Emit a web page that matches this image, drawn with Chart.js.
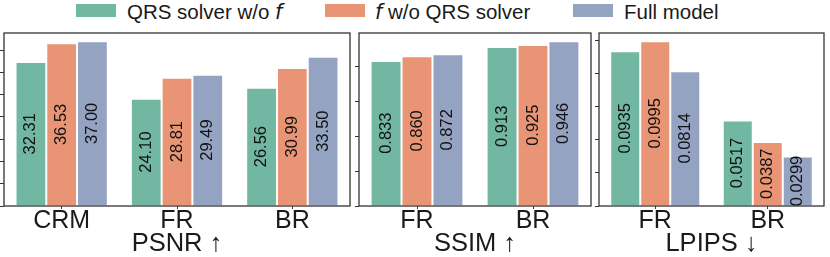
<!DOCTYPE html>
<html>
<head>
<meta charset="utf-8">
<script src="https://cdn.jsdelivr.net/npm/chart.js@4.4.1/dist/chart.umd.min.js"></script>
<style>
body { margin: 0; width: 830px; height: 257px; position: relative; background: #fff; overflow: hidden; font-family: "Liberation Sans", Arial, sans-serif; }
.panel { position: absolute; top: 0; height: 257px; }
.key { position: absolute; top: 4px; width: 40px; height: 13px; }
.lab { position: absolute; top: 2px; font-size: 20.5px; line-height: 20px; color: #1a1a1a; white-space: nowrap; }
.lab i { font-family: "DejaVu Sans", sans-serif; }
</style>
</head>
<body>
<div class="key" style="left:76px;background:#71b7a1"></div>
<div class="lab" style="left:127px">QRS solver w/o <i>f</i></div>
<div class="key" style="left:325px;background:#e99575"></div>
<div class="lab" style="left:375px"><i>f</i> w/o QRS solver</div>
<div class="key" style="left:573px;background:#95a3c3"></div>
<div class="lab" style="left:624px">Full model</div>

<div class="panel" style="left:0;width:354px"><canvas id="psnr"></canvas></div>
<div class="panel" style="left:355px;width:240px"><canvas id="ssim"></canvas></div>
<div class="panel" style="left:595px;width:235px"><canvas id="lpips"></canvas></div>

<script>
const seriesNames = ["QRS solver w/o f", "f w/o QRS solver", "Full model"];
const seriesColors = ["#71b7a1", "#e99575", "#95a3c3"];

const psnrLabels = ["CRM", "FR", "BR"];
const psnrNoSolver = [32.31, 24.10, 26.56];
const psnrNoF = [36.53, 28.81, 30.99];
const psnrFull = [37.00, 29.49, 33.50];

const ssimLabels = ["FR", "BR"];
const ssimNoSolver = [0.833, 0.913];
const ssimNoF = [0.860, 0.925];
const ssimFull = [0.872, 0.946];

const lpipsLabels = ["FR", "BR"];
const lpipsNoSolver = [0.0935, 0.0517];
const lpipsNoF = [0.0995, 0.0387];
const lpipsFull = [0.0814, 0.0299];

const fontFamily = '"Liberation Sans", Arial, sans-serif';

// box around the plot area + rotated value labels in the middle of each bar
const framePlugin = {
    id: 'frame',
    afterDatasetsDraw(chart)
    {
        const ctx = chart.ctx;
        const digits = chart.options.plugins.frame.digits;
        ctx.save();
        ctx.font = '16.5px ' + fontFamily;
        ctx.fillStyle = '#111';
        ctx.textAlign = 'center';
        ctx.textBaseline = 'middle';
        chart.data.datasets.forEach((ds, i) =>
        {
            chart.getDatasetMeta(i).data.forEach((bar, j) =>
            {
                ctx.save();
                ctx.translate(bar.x, (bar.y + bar.base) / 2);
                ctx.rotate(-Math.PI / 2);
                ctx.fillText(ds.data[j].toFixed(digits), 0, 0);
                ctx.restore();
            });
        });
        const a = chart.chartArea;
        ctx.strokeStyle = '#333';
        ctx.lineWidth = 1.3;
        ctx.strokeRect(a.left, a.top, a.right - a.left, a.bottom - a.top);
        ctx.restore();
    }
};

function MakePanel(id, labels, values, title, step, digits, padRight)
{
    const top = Math.max(...values.flat()) * 1.05;
    return new Chart(document.getElementById(id), {
        type: 'bar',
        data: {
            labels: labels,
            datasets: values.map((v, i) => ({
                label: seriesNames[i],
                data: v,
                backgroundColor: seriesColors[i],
                borderColor: 'rgba(255,255,255,0.85)',
                borderWidth: 1,
                categoryPercentage: 0.8,
                barPercentage: 1.0
            }))
        },
        options: {
            responsive: true,
            maintainAspectRatio: false,
            animation: false,
            layout: { padding: { left: 0, right: padRight, top: 33, bottom: 0 } },
            plugins: {
                legend: { display: false },
                tooltip: { enabled: false },
                frame: { digits: digits }
            },
            scales: {
                x: {
                    offset: true,
                    border: { display: false },
                    grid: { display: true, offset: false, drawOnChartArea: false, drawTicks: true, tickLength: 3, color: '#333' },
                    ticks: { color: '#1a1a1a', padding: 0, font: { family: fontFamily, size: 25, lineHeight: 1 } },
                    title: {
                        display: true,
                        text: title,
                        color: '#1a1a1a',
                        font: { family: fontFamily, size: 25.5, lineHeight: 1 },
                        padding: { top: 0, bottom: 0 }
                    },
                    afterFit: s => { s.height = 51; }
                },
                y: {
                    min: 0,
                    max: top,
                    border: { display: false },
                    grid: { display: true, drawOnChartArea: false, drawTicks: true, tickLength: 4, color: '#333' },
                    ticks: { display: false, stepSize: step, includeBounds: false },
                    afterFit: s => { s.width = 4; }
                }
            }
        },
        plugins: [framePlugin]
    });
}

MakePanel("psnr", psnrLabels, [psnrNoSolver, psnrNoF, psnrFull], "PSNR \u2191", 5, 2, 4);
MakePanel("ssim", ssimLabels, [ssimNoSolver, ssimNoF, ssimFull], "SSIM \u2191", 0.2, 3, 4);
MakePanel("lpips", lpipsLabels, [lpipsNoSolver, lpipsNoF, lpipsFull], "LPIPS \u2193", 0.02, 4, 6);
</script>
</body>
</html>
